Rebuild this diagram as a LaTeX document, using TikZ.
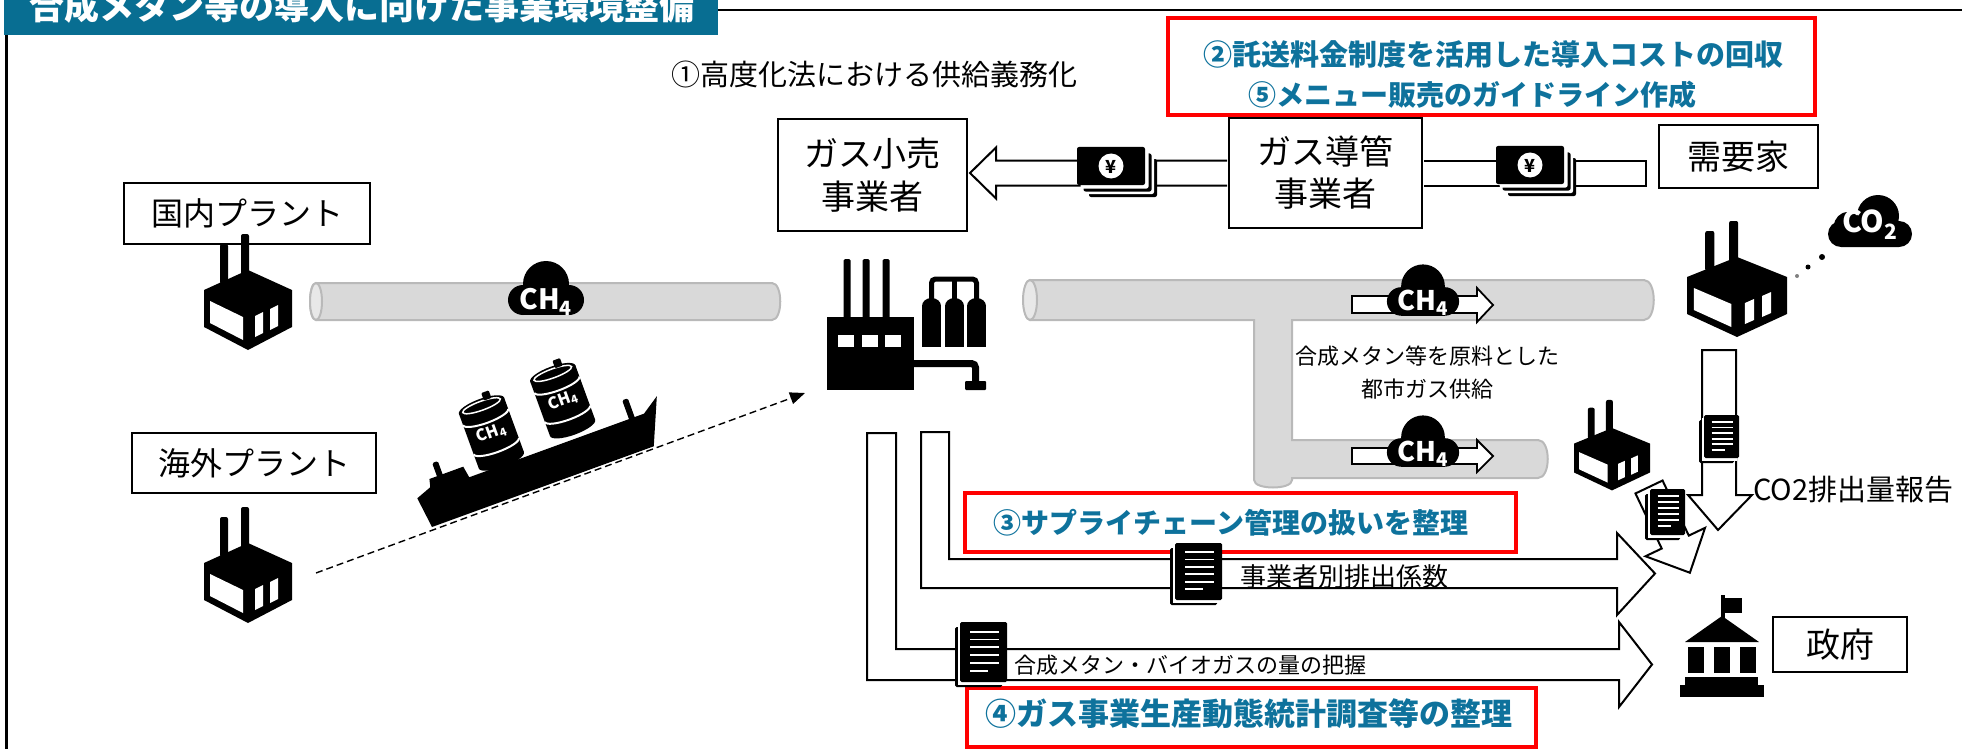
\documentclass[tikz,border=0pt]{standalone}
\usepackage{fontspec}
\setmainfont{Noto Sans CJK JP}
\usetikzlibrary{positioning, arrows.meta, calc}

\newcommand{\fsz}[1]{\fontsize{#1}{#1}\selectfont}

\tikzset{
  pics/factory/.style={code={
    \fill[rounded corners=2] (-28,-26) rectangle (-20,14);
    \fill[rounded corners=2] (-7,-36) rectangle (1,6);
    \fill (0,0) -- (44,20) -- (44,57) -- (0,80) -- (-44,57) -- (-44,20) -- cycle;
    \fill[white] (-38,31) -- (-5,47) -- (-5,70) -- (-38,53) -- cycle;
    \fill[white] (7,46) -- (15,42) -- (15,63) -- (7,67) -- cycle;
    \fill[white] (22,39) -- (30,35) -- (30,56) -- (22,60) -- cycle;
  }},
  pics/cloud/.style={code={
    \fill (0,-5) circle[radius=23];
    \fill (-23,11) circle[radius=15];
    \fill (23,11) circle[radius=15];
    \fill (-23,5) rectangle (23,26);
  }},
  pics/co2cloud/.style={code={
    \fill (8,-5) circle[radius=21];
    \fill (-22,5) circle[radius=14];
    \fill[rounded corners=13] (-42,0) rectangle (42,26);
  }},
  pics/bills/.style={code={
    \foreach \d/\c in {12/black, 9/white, 6.5/black, 3.5/white}
      \fill[\c, rounded corners=2] (\d,\d) rectangle ++(68,38);
    \fill[rounded corners=2] (0,0) rectangle (68,38);
    \fill[white] (34,19) circle[radius=12.5];
    \node[font=\fsz{18}\bfseries, inner sep=0] at (34,19.5) {¥};
  }},
  pics/doc/.style 2 args={code={
    \fill[rounded corners=1.5] (-5,5) rectangle (#1-5,#2+5);
    \fill[white] (-2.5,2.5) rectangle (#1-2.5,#2+2.5);
    \fill[rounded corners=1.5] (0,0) rectangle (#1,#2);
    \foreach \k in {0,...,4}
      \draw[white, line width=1.8] ({0.22*#1},{(0.16+0.13*\k)*#2}) -- ({0.84*#1},{(0.16+0.13*\k)*#2});
    \draw[white, line width=1.8] ({0.22*#1},{0.81*#2}) -- ({0.6*#1},{0.81*#2});
  }},
}

\begin{document}
\begin{tikzpicture}[x=1pt, y=-1pt,
    box/.style={draw, line width=2, fill=white, inner sep=0, align=center},
    redbox/.style={draw=redC, line width=4.5, inner sep=0},
    note/.style={text=noteC, font=\fsz{29}\bfseries, inner sep=0},
    lbl/.style={inner sep=0, anchor=west},
    harrow/.style={draw, fill=white, line width=2, line join=miter},
    pipe/.style={fill=pipeC, draw=pipeD, line width=2},
    gas/.style={text=white, font=\fsz{28}\bfseries, inner sep=0},
]

% Color definitions
\definecolor{barC}{RGB}{8,110,146}
\definecolor{noteC}{RGB}{14,114,156}
\definecolor{redC}{RGB}{255,0,0}
\definecolor{pipeC}{RGB}{217,217,217}
\definecolor{pipeD}{RGB}{185,185,185}

\useasboundingbox (0,0) rectangle (1962,749);
\clip (0,0) rectangle (1962,749);

% heading and frame
\fill[barC] (4,-2) rectangle (718,35);
\node[text=white, font=\fsz{35}\bfseries, inner sep=0, anchor=base] (title) at (362,20)
  {合成メタン等の導入に向けた事業環境整備};
\draw[line width=2.5] (718,10) -- (1962,10);
\draw[line width=3] (6,35) -- (6,749);

\node[inner sep=0, font=\fsz{29}] (duty) at (874,74) {①高度化法における供給義務化};

\node[redbox, minimum width=647, minimum height=97] (costbox) at (1491.5,66.5) {};
\node[note] (cost) at (1493,55) {②託送料金制度を活用した導入コストの回収};
\node[note, font=\fsz{28}\bfseries] (menu) at (1472,95) {⑤メニュー販売のガイドライン作成};

% players
\node[box, minimum width=189, minimum height=112, font=\fontsize{34}{43}\selectfont] (retail) at (872.5,175) {ガス小売\\事業者};
\node[box, minimum width=193, minimum height=110, font=\fontsize{34}{42}\selectfont] (pipeop) at (1325.5,173) {ガス導管\\事業者};
\node[box, minimum width=159, minimum height=63, font=\fsz{34}] (consumer) at (1738.5,156.5) {需要家};
\node[box, minimum width=246, minimum height=61, font=\fsz{32}] (domestic) at (247,213.5) {国内プラント};
\node[box, minimum width=244, minimum height=60, font=\fsz{32}] (overseas) at (254,463) {海外プラント};
\node[box, minimum width=134, minimum height=55, font=\fsz{34}] (gov) at (1840,644.5) {政府};

% money flow
\draw[harrow] (pipeop.west) ++(-1,-12.5) -- ++(-231,0) -- ++(0,-13) -- ++(-26,25.5)
  -- ++(26,25.5) -- ++(0,-13) -- ++(231,0);
\draw[harrow] (pipeop.east) ++(1,-12.5) -- ++(222,0) -- ++(0,25) -- ++(-222,0);
\pic at (1077,147) {bills};
\pic at (1496,146) {bills};

% pipelines
\path[pipe] (316,283) -- (772,283) .. controls (783,283) and (783,320) .. (772,320)
  -- (316,320) .. controls (308,320) and (308,283) .. (316,283) -- cycle;
\path[pipe, fill=pipeC!60!white] (316,301.5) ellipse[x radius=6, y radius=18.5];
\path[pipe] (1030,280) -- (1644,280) .. controls (1657,280) and (1657,320) .. (1644,320)
  -- (1292,320) -- (1292,440) -- (1538,440) .. controls (1551,440) and (1551,478) .. (1538,478)
  -- (1292,478) -- (1292,480) .. controls (1292,490) and (1254,490) .. (1254,480)
  -- (1254,320) -- (1030,320) .. controls (1022,320) and (1022,280) .. (1030,280) -- cycle;
\path[pipe, fill=pipeC!60!white] (1030,300) ellipse[x radius=7, y radius=20];

\pic at (546,289) {cloud};
\node[gas] (gasa) at (546,302) {CH\textsubscript{4}};

\draw[harrow, line width=1.8] (1352,296) -- (1477,296) -- (1477,288) -- (1493,305)
  -- (1477,322) -- (1477,313) -- (1352,313) -- cycle;
\draw[harrow, line width=1.8] (1352,448) -- (1477,448) -- (1477,440) -- (1493,456)
  -- (1477,472) -- (1477,464) -- (1352,464) -- cycle;
\pic[scale=0.95] at (1423,291) {cloud};
\node[gas, font=\fsz{27}\bfseries] (gasb) at (1423,303) {CH\textsubscript{4}};
\pic[scale=0.95] at (1423,442) {cloud};
\node[gas, font=\fsz{27}\bfseries] (gasc) at (1423,454) {CH\textsubscript{4}};

\node[inner sep=0, font=\fontsize{22}{33}\selectfont, align=center] (citygas) at (1427,373)
  {合成メタン等を原料とした\\都市ガス供給};

% plants
\pic at (248,270) {factory};
\pic at (248,543) {factory};
\pic[xscale=1.136] at (1737,257) {factory};
\pic[xscale=0.864, yscale=0.78] at (1612,428) {factory};

% synthesis plant
\fill (827,317) rectangle (914,390);
\foreach \cx in {847,866,886}
  \fill[rounded corners=1.5] (\cx-3.5,259) rectangle (\cx+3.5,320);
\foreach \wx in {838,862,885}
  \fill[white] (\wx,335) rectangle ++(16,12);
\foreach \tx in {931.5,954.5,976.5} {
  \fill (\tx-9.5,306) rectangle (\tx+9.5,347);
  \fill (\tx,306) ellipse[x radius=9.5, y radius=8];
}
\draw[line width=5, rounded corners=4] (931.5,300) -- (931.5,279) -- (976.5,279) -- (976.5,300);
\draw[line width=5] (954.5,279) -- (954.5,300);
\draw[line width=7, rounded corners=4] (912,363.5) -- (975.5,363.5) -- (975.5,384);
\fill[rounded corners=1] (965,381) rectangle (986,390);

% ship with two tanks
\begin{scope}[shift={(432,527)}, rotate=20]
  \fill (0,0) -- (236,0) -- (256,-46) -- (238,-34) -- (52,-34) -- (50,-46) -- (14,-46)
    -- (12,-38) -- (-4,-32) -- cycle;
  \fill[rounded corners=1.5] (22,-60) rectangle (28,-42);
  \fill[rounded corners=1.5] (222,-54) rectangle (228,-32);
  \foreach \bx/\by/\nm in {88/-68/tanka, 166/-74/tankb} {
    \fill (\bx-24,\by-29) rectangle (\bx+24,\by+29);
    \fill (\bx,\by-29) ellipse[x radius=24, y radius=7];
    \fill (\bx,\by+29) ellipse[x radius=24, y radius=7];
    \draw[white, line width=1.5] (\bx,\by-29) ellipse[x radius=20, y radius=4.5];
    \draw[white, line width=2] (\bx-24,\by-17) arc[start angle=180, end angle=0, x radius=24, y radius=6];
    \draw[white, line width=2] (\bx-24,\by+14) arc[start angle=180, end angle=0, x radius=24, y radius=6];
    \fill[rounded corners=1] (\bx+4,\by-41) rectangle (\bx+12,\by-33);
    \node[white, font=\fsz{16}\bfseries, transform shape, inner sep=0] (\nm) at (\bx,\by) {CH\textsubscript{4}};
  }
\end{scope}

\coordinate (ovsout) at (316,573);
\coordinate (plantin) at (805,393);
\draw[line width=1.4, dash pattern=on 7pt off 4pt, -{Triangle[length=15pt, width=12pt]}] (ovsout) -- (plantin);

% emissions
\pic at (1870,221) {co2cloud};
\node[gas, font=\fsz{30}\bfseries] (co2) at (1870,225) {CO\textsubscript{2}};
\fill[gray] (1797,276) circle[radius=2];
\fill (1808,267) circle[radius=2.5];
\fill (1822,257) circle[radius=3];

% reporting flows
\draw[harrow] (867,433) -- (896,433) -- (896,649) -- (1619,649) -- (1619,622) -- (1652,664.5)
  -- (1619,707) -- (1619,680) -- (867,680) -- cycle;
\draw[harrow] (921,432) -- (949,432) -- (949,559) -- (1617,559) -- (1617,533) -- (1655,573.5)
  -- (1617,615) -- (1617,588) -- (921,588) -- cycle;
\draw[harrow] (1702,350) -- (1736,350) -- (1736,495) -- (1752,495) -- (1718,530) -- (1688,495)
  -- (1702,495) -- cycle;
\begin{scope}[shift={(1649,487)}, rotate=-64.5]
  \draw[harrow] (0,-15) -- (61,-15) -- (61,-33) -- (95,0) -- (61,33) -- (61,15) -- (0,15) -- cycle;
\end{scope}

\node[redbox, minimum width=551, minimum height=59] (scbox) at (1240.5,522.5) {};
\node[note, font=\fsz{28}\bfseries] (supply) at (1231,523) {③サプライチェーン管理の扱いを整理};
\node[redbox, minimum width=569, minimum height=59] (statbox) at (1251.5,717.5) {};
\node[note, font=\fsz{31}\bfseries] (stats) at (1249,714) {④ガス事業生産動態統計調査等の整理};

\pic at (1704,415) {doc={35}{43}};
\pic at (1650,489) {doc={35}{46}};
\pic at (1175,543) {doc={47}{57}};
\pic at (960,622) {doc={47}{60}};

\node[lbl, font=\fsz{26}] (factor) at (1240,577) {事業者別排出係数};
\node[lbl, font=\fsz{22}] (amount) at (1014,665) {合成メタン・バイオガスの量の把握};
\node[lbl, font=\fsz{29}] (report) at (1753,490) {CO2排出量報告};

% government
\fill (1721,595) rectangle (1725,618);
\fill (1725,598) rectangle (1742,613);
\fill (1722,616) -- (1759,642) -- (1685,642) -- cycle;
\foreach \cx in {1695.5,1722,1748}
  \fill (\cx-8,647) rectangle (\cx+8,673);
\fill (1685,677) rectangle (1758,685);
\fill (1680,685) rectangle (1764,697);

\end{tikzpicture}
\end{document}
